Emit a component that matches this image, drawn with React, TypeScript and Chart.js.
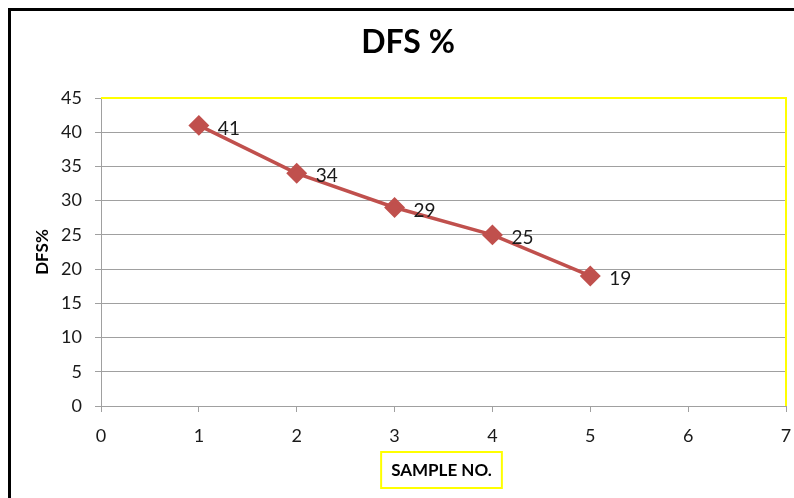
import React, { useEffect, useRef } from "react";
import { Chart, registerables } from "chart.js";

Chart.register(...registerables);

// Series data
const sampleNos = [1, 2, 3, 4, 5];
const dfsValues = [41, 34, 29, 25, 19];

// Text
const chartTitle = "DFS %";
const xTitle = "SAMPLE NO.";
const yTitle = "DFS%";

const FONT = "Lato, 'Open Sans', sans-serif";
const RED = "#C0504D";
const GRID = "#A0A0A0";

// Frame, plot border, titles and value labels
const decorations = {
  id: "decorations",
  beforeDraw(chart: any) {
    const { ctx, width, height } = chart;
    ctx.save();
    ctx.fillStyle = "#ffffff";
    ctx.fillRect(0, 0, width, height);
    ctx.fillStyle = "#000000";
    ctx.fillRect(8, 8, width - 8, 3);
    ctx.fillRect(8, 8, 3, height - 8);
    ctx.restore();
  },
  beforeDatasetsDraw(chart: any) {
    const { ctx, chartArea: a } = chart;
    ctx.save();
    ctx.strokeStyle = "#FFFF00";
    ctx.lineWidth = 2;
    ctx.beginPath();
    ctx.moveTo(a.left, a.top);
    ctx.lineTo(a.right, a.top);
    ctx.lineTo(a.right, a.bottom);
    ctx.stroke();
    ctx.restore();
  },
  afterDatasetsDraw(chart: any) {
    const { ctx } = chart;
    const meta = chart.getDatasetMeta(0);
    ctx.save();
    ctx.fillStyle = "#1a1a1a";
    ctx.font = `19px ${FONT}`;
    ctx.textAlign = "left";
    ctx.textBaseline = "middle";
    meta.data.forEach((pt: any, i: number) => {
      ctx.fillText(String(dfsValues[i]), pt.x + 19, pt.y + 3);
    });
    ctx.restore();
  },
  afterDraw(chart: any) {
    const { ctx } = chart;
    ctx.save();
    ctx.fillStyle = "#000000";
    ctx.textAlign = "center";
    ctx.textBaseline = "middle";

    // main title
    ctx.font = `bold 32px ${FONT}`;
    ctx.fillText(chartTitle, 408, 43);

    // x axis title in a yellow box
    ctx.font = `bold 17px ${FONT}`;
    const cx = 441.5;
    const cy = 470;
    const tw = ctx.measureText(xTitle).width;
    const bw = tw + 20;
    const bh = 36;
    ctx.strokeStyle = "#FFFF00";
    ctx.lineWidth = 2;
    ctx.strokeRect(cx - bw / 2, cy - bh / 2, bw, bh);
    ctx.fillText(xTitle, cx, cy + 1);

    // y axis title
    ctx.translate(43, 252);
    ctx.rotate(-Math.PI / 2);
    ctx.font = `bold 17px ${FONT}`;
    ctx.fillText(yTitle, 0, 0);
    ctx.restore();
  },
};

export default function App() {
  const canvasRef = useRef<HTMLCanvasElement | null>(null);

  useEffect(() => {
    if (!canvasRef.current) return;
    const chart = new Chart(canvasRef.current, {
      type: "line",
      data: {
        datasets: [
          {
            label: "DFS %",
            data: sampleNos.map((x, i) => ({ x, y: dfsValues[i] })),
            borderColor: RED,
            backgroundColor: RED,
            borderWidth: 3.5,
            pointStyle: "rectRot",
            pointRadius: 8,
            pointHoverRadius: 8,
            pointBackgroundColor: RED,
            pointBorderColor: RED,
            tension: 0,
          },
        ],
      },
      options: {
        responsive: false,
        animation: false,
        layout: { autoPadding: false, padding: { left: 0, top: 98, right: 8, bottom: 0 } },
        plugins: {
          legend: { display: false },
          title: { display: false },
          tooltip: { enabled: false },
        },
        scales: {
          x: {
            type: "linear",
            min: 0,
            max: 7,
            afterFit: (s: any) => {
              s.height = 92;
              s.paddingLeft = 0;
              s.paddingRight = 0;
            },
            ticks: {
              stepSize: 1,
              color: "#1a1a1a",
              font: { family: FONT, size: 18 },
              padding: 13,
            },
            grid: {
              drawOnChartArea: false,
              drawTicks: true,
              tickLength: 6,
              color: GRID,
            },
            border: { color: GRID, width: 1 },
          },
          y: {
            type: "linear",
            min: 0,
            max: 45,
            afterFit: (s: any) => {
              s.width = 101;
              s.paddingTop = 0;
              s.paddingBottom = 0;
            },
            ticks: {
              stepSize: 5,
              color: "#1a1a1a",
              font: { family: FONT, size: 18 },
              padding: 13,
            },
            grid: {
              color: GRID,
              tickLength: 6,
              lineWidth: 1,
            },
            border: { color: GRID, width: 1 },
          },
        },
      },
      plugins: [decorations],
    } as any);
    return () => chart.destroy();
  }, []);

  return (
    <div style={{ position: "fixed", left: 0, top: 0, width: 794, height: 498 }}>
      <canvas ref={canvasRef} width={794} height={498} />
    </div>
  );
}
